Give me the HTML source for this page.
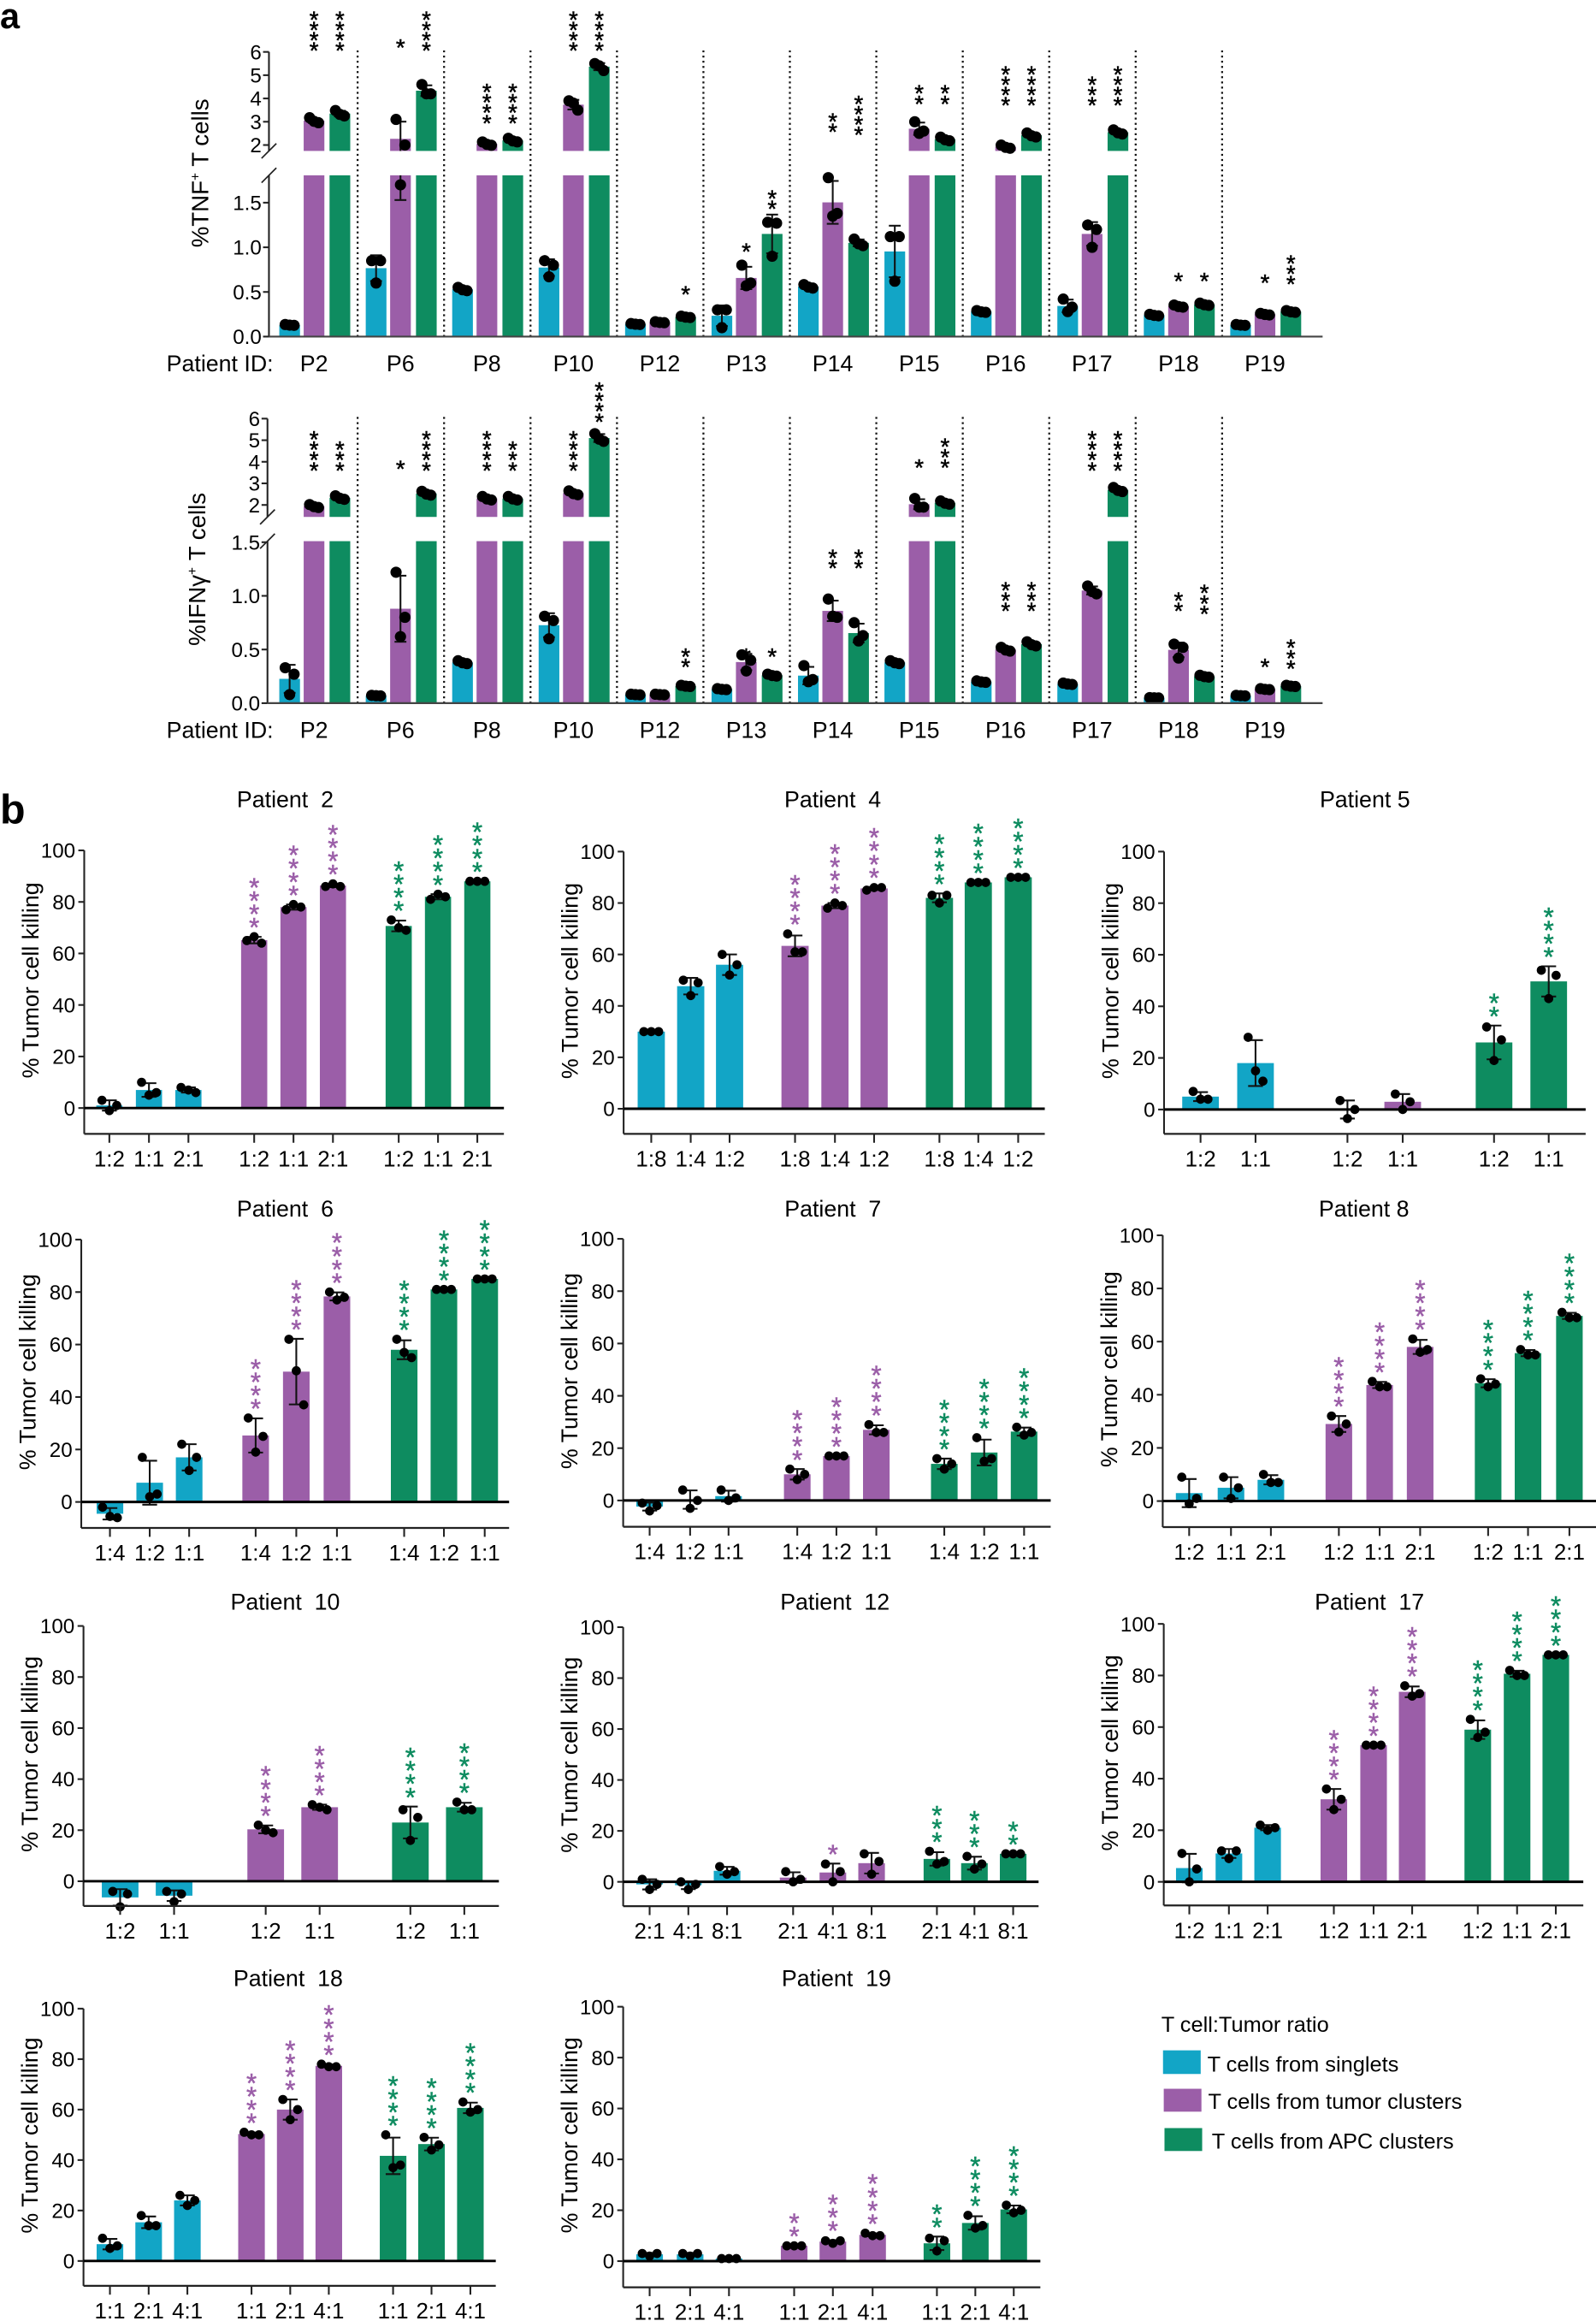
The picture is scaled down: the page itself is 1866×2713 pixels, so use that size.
<!DOCTYPE html>
<html><head><meta charset="utf-8">
<style>
html,body{margin:0;padding:0;background:#fff;}
svg{display:block;font-family:"Liberation Sans",Arial,sans-serif;}
text{white-space:pre;}
</style></head>
<body>
<svg id="s" xmlns="http://www.w3.org/2000/svg" width="1866" height="2713" viewBox="0 0 1080 1570">
<rect x="0" y="0" width="1080" height="1570" fill="#fff"/>
<text x="0" y="19" font-size="24" font-weight="bold">a</text>
<text x="0" y="557" font-size="28" font-weight="bold">b</text>
<text x="0" y="0" font-size="16" transform="translate(141,117) rotate(-90)" text-anchor="middle">%TNF<tspan font-size="9" dy="-6">+</tspan><tspan dy="6"> T cells</tspan></text>
<text x="0" y="0" font-size="16" transform="translate(139,385) rotate(-90)" text-anchor="middle">%IFNγ<tspan font-size="9" dy="-6">+</tspan><tspan dy="6"> T cells</tspan></text>
<text x="185" y="251" font-size="15.5" text-anchor="end">Patient ID:</text>
<text x="185" y="499" font-size="15.5" text-anchor="end">Patient ID:</text>
<text x="785.8" y="1374.4" font-size="14.7">T cell:Tumor ratio</text>
<rect x="787" y="1387" width="25.5" height="16" fill="#12a5c6"/>
<text x="817" y="1401.4" font-size="14.7">T cells from singlets</text>
<rect x="787.5" y="1413" width="25.5" height="15.5" fill="#9b5ea8"/>
<text x="817.5" y="1426.5" font-size="14.7">T cells from tumor clusters</text>
<rect x="788" y="1439.6" width="25.5" height="15.5" fill="#0e8c60"/>
<text x="820" y="1453.5" font-size="14.7">T cells from APC clusters</text>
</svg>
<script>
const NS='http://www.w3.org/2000/svg';
const svg=document.getElementById('s');
function el(t,a,txt){const e=document.createElementNS(NS,t);for(const k in a)e.setAttribute(k,a[k]);if(txt!=null)e.textContent=txt;svg.appendChild(e);return e;}
const C=['#12a5c6','#9b5ea8','#0e8c60'];
const AX='#222';
function ln(x1,y1,x2,y2,w,c,da){const a={x1,y1,x2,y2,stroke:c||AX,'stroke-width':w||1.2};if(da)a['stroke-dasharray']=da;el('line',a);}
function st(d){const n=d.length,m=d.reduce((a,b)=>a+b,0)/n;const sd=Math.sqrt(d.reduce((a,b)=>a+(b-m)*(b-m),0)/(n-1));return [m,sd];}
function stars(x,yb,n,col,fs,sp){for(let k=0;k<n;k++){const cy=yb-sp/2-k*sp;el('text',{x:x,y:cy+0.57*fs,'font-size':fs,'text-anchor':'middle',fill:col,stroke:col,'stroke-width':0.3},'*');}}

const PAT=['P2','P6','P8','P10','P12','P13','P14','P15','P16','P17','P18','P19'];
function panelA(cfg){
  const {y0,lowTop,upBot,lk,uk,u2,thr,ax,data,sb,sepTop,ticksU,ticksL,labY}=cfg;
  const yl=v=>y0-v*lk, yu=v=>u2-(v-2)*uk;
  const map=v=>v<=thr?yl(v):yu(v);
  for(let i=0;i<11;i++){const x=242+i*58.5;ln(x,sepTop,x,y0,1.3,'#111','1.3 2.2');}
  for(let i=0;i<12;i++){
    const off=[196,212.5,230].map(v=>v+i*58.5);
    for(let j=0;j<3;j++){
      const d=data[i][j];const dots=Array.isArray(d)?d:[d*1.04,d*0.97,d*0.99];
      const [m,sd]=st(dots);const x=off[j],w=14;
      if(m<=thr){el('rect',{x:x-w/2,y:yl(m),width:w,height:y0-yl(m),fill:C[j]});}
      else{el('rect',{x:x-w/2,y:lowTop,width:w,height:y0-lowTop,fill:C[j]});el('rect',{x:x-w/2,y:yu(m),width:w,height:upBot-yu(m),fill:C[j]});}
      const lo=m-sd,hi=m+sd;
      if((lo<=thr)==(hi<=thr)){ln(x,map(lo),x,map(hi),1.2,'#111');}
      else{ln(x,map(lo),x,lowTop,1.2,'#111');ln(x,upBot,x,map(hi),1.2,'#111');}
      ln(x-4,map(lo),x+4,map(lo),1.2,'#111');ln(x-4,map(hi),x+4,map(hi),1.2,'#111');
      const dx=[-3,3,0];
      dots.forEach((v,k)=>el('circle',{cx:x+dx[k],cy:map(v),r:3.8,fill:'#000'}));
      const s=sb[i][j];if(s)stars(x,s[1],s[0],'#000',16,7);
    }
    el('text',{x:212.5+i*58.5,y:labY,'font-size':15.5,'text-anchor':'middle'},PAT[i]);
  }
  ln(ax,lowTop,ax,y0);ln(ax,yu(6),ax,upBot);ln(ax,y0,895,y0,1.3,'#444');
  ln(ax-5,upBot+5,ax+5,upBot-5,1);ln(ax-5,lowTop+5,ax+5,lowTop-5,1);
  ticksU.forEach(v=>{ln(ax-4,yu(v),ax,yu(v));el('text',{x:ax-5,y:yu(v)+5,'font-size':14,'text-anchor':'end'},String(v));});
  ticksL.forEach(v=>{ln(ax-4,yl(v),ax,yl(v));el('text',{x:ax-5,y:yl(v)+5,'font-size':14,'text-anchor':'end'},v.toFixed(1));});
}
panelA({y0:227.6,lowTop:118.5,upBot:102,lk:60.4,uk:15.75,u2:98,thr:1.78,ax:182,sepTop:34,labY:251,
 ticksU:[2,3,4,5,6],ticksL:[0,0.5,1,1.5],
 data:[[0.13,3.05,3.35],[[0.85,0.85,0.6],[3.1,2.0,1.7],[4.6,4.2,4.2]],[0.53,2.05,2.2],[[0.85,0.8,0.67],[3.9,3.5,3.8],[5.5,5.2,5.4]],
  [0.14,0.16,0.22],[[0.3,0.3,0.1],[0.8,0.6,0.57],[1.28,1.27,0.9]],[0.56,[1.78,1.38,1.35],1.05],[[1.12,1.12,0.62],[3.0,2.6,2.5],2.25],
  [0.28,1.92,2.42],[[0.42,0.33,0.28],[1.25,1.2,1.0],2.55],[0.24,0.34,0.36],[0.13,0.25,0.28]],
 sb:[[0,[4,34],[4,34]],[0,[1,32],[4,34]],[0,[4,83],[4,83]],[0,[4,34],[4,34]],[0,0,[1,199]],[0,[1,170],[2,141]],
  [0,[2,89],[4,91]],[0,[2,70],[2,70]],[0,[4,71],[4,71]],[0,[3,71],[4,71]],[0,[1,190],[1,190]],[0,[1,191],[3,192]]]
});
panelA({y0:475.6,lowTop:366,upBot:349.6,lk:72.6,uk:14.6,u2:341.5,thr:1.5,ax:181,sepTop:282,labY:499,
 ticksU:[2,3,4,5,6],ticksL:[0,0.5,1,1.5],
 data:[[[0.33,0.27,0.08],1.94,2.33],[0.07,[1.22,0.8,0.62],2.53],[0.38,2.3,2.3],[[0.81,0.77,0.6],2.55,5.1],
  [0.08,0.08,0.16],[0.13,[0.45,0.4,0.3],0.26],[[0.35,0.22,0.2],[0.97,0.8,0.81],[0.75,0.63,0.58]],[0.38,[2.3,1.9,1.9],2.1],
  [0.2,0.5,0.55],[0.18,1.05,2.7],[0.05,[0.55,0.52,0.42],0.25],[0.07,0.13,0.16]],
 sb:[[0,[4,318],[3,318]],[0,[1,317],[4,318]],[0,[4,318],[3,318]],[0,[4,318],[4,285]],[0,0,[2,451]],[0,[1,444],[1,444]],
  [0,[2,384],[2,384]],[0,[1,316],[3,316]],[0,[3,413],[3,413]],[0,[4,318],[4,318]],[0,[2,413],[3,415]],[0,[1,451],[3,452]]]
});

function chart(c){
  const {ax,y100,y0,yb,xe,title,tx,ty,xs,w,labs,data}=c;
  const k=(y0-y100)/100, Y=v=>y0-v*k;
  const per=xs.length/3;
  xs.forEach((x,i)=>{
    const g=Math.floor(i/per),d=data[i][0],ns=data[i][1];
    const [m,sd]=st(d);
    const top=Math.min(Y(m),y0),h=Math.abs(Y(m)-y0);
    el('rect',{x:x-w/2,y:top,width:w,height:h,fill:C[g]});
    ln(x,Y(m-sd),x,Y(m+sd),1.2,'#111');
    ln(x-5,Y(m-sd),x+5,Y(m-sd),1.2,'#111');ln(x-5,Y(m+sd),x+5,Y(m+sd),1.2,'#111');
    const dx=[-5,0,5];
    d.forEach((v,j)=>el('circle',{cx:x+dx[j],cy:Y(v),r:3.1,fill:'#000'}));
    if(ns){const mt=Math.max(Math.max(...d),m+sd);stars(x,Y(mt)-6,ns,C[g],18,9);}
    ln(x,yb,x,yb+6,1.2);
    el('text',{x:x,y:yb+22,'font-size':15,'text-anchor':'middle'},labs[i%labs.length]);
  });
  ln(ax,y100,ax,yb,1.2);ln(ax,yb,xe,yb,1.3);ln(ax,y0,xe,y0,1.7,'#000');
  for(let v=0;v<=100;v+=20){ln(ax-4,Y(v),ax,Y(v));el('text',{x:ax-6,y:Y(v)+5,'font-size':14,'text-anchor':'end'},String(v));}
  el('text',{x:0,y:0,'font-size':15.5,'text-anchor':'middle',transform:`translate(${ax-31},${(y100+yb)/2-8}) rotate(-90)`},'% Tumor cell killing');
  el('text',{x:tx,y:ty+5,'font-size':15.5,'text-anchor':'middle'},title);
}
const L3a=['1:2','1:1','2:1'];
chart({ax:57,y100:575.2,y0:749.5,yb:767,xe:341,title:'Patient  2',tx:193,ty:541,w:17.7,labs:L3a,
 xs:[74,100.8,127.5,172,198.6,225.3,269.8,296.4,323],
 data:[[[3,-1,1]],[[10,5,6]],[[8,7,6]],[[65,66.5,64],4],[[77,79,78],4],[[86,87,86],4],[[73,70,69],4],[[81,83,82],4],[[88,88,88],4]]});
chart({ax:422,y100:576,y0:750,yb:767,xe:707,title:'Patient  4',tx:563.5,ty:541,w:18.4,labs:['1:8','1:4','1:2'],
 xs:[440.7,467.4,493.7,538,565,591.5,635.7,662,689],
 data:[[[30,30,30]],[[50,44,49]],[[60,52,56]],[[68,61,61],4],[[78,80,79],4],[[85,86,86],4],[[83,80,83],4],[[88,88,88],4],[[90,90,90],4]]});
chart({ax:787.7,y100:576,y0:750.5,yb:767,xe:1073,title:'Patient 5',tx:923.6,ty:541,w:24.8,labs:['1:2','1:1'],
 xs:[812.4,849.6,911.8,949.2,1011,1048],
 data:[[[7,4,4]],[[28,15,11]],[[3.5,-3.5,0]],[[6,0,3]],[[32,19,27],2],[[54,43,52],4]]});
chart({ax:55,y100:838.5,y0:1016,yb:1033.6,xe:344.5,title:'Patient  6',tx:193,ty:818,w:18,labs:['1:4','1:2','1:1'],
 xs:[74.4,101.3,128,173,200.5,228,273.5,300.4,328],
 data:[[[-2,-5.5,-6]],[[17,2,3]],[[22,12,17]],[[32,19,25],4],[[62,50,37],4],[[80,77,78],4],[[62,57,55],4],[[81,81,81],4],[[85,85,85],4]]});
chart({ax:421.7,y100:838,y0:1015,yb:1032.8,xe:711,title:'Patient  7',tx:563.6,ty:818,w:18,labs:['1:4','1:2','1:1'],
 xs:[439.6,467,493,539.5,566,593,639,666,693],
 data:[[[-1,-4,-2]],[[4,-3,0]],[[4,0,1]],[[12,8,10],4],[[17,17,17],4],[[29,26,26],4],[[16,12,14],4],[[24,15,16],4],[[28,25,26],4]]});
chart({ax:786.8,y100:835.6,y0:1015.4,yb:1033,xe:1080,title:'Patient 8',tx:923,ty:818,w:18,labs:L3a,
 xs:[804.7,833,860,906,933.6,961,1007,1034,1062],
 data:[[[9,-1,1]],[[9,1,5]],[[10,7,7]],[[32,26,29],4],[[45,43,43],4],[[61,56,57],4],[[46,43,44],4],[[57,55,55],4],[[71,69,69],4]]});
chart({ax:56.5,y100:1099.9,y0:1272.6,yb:1289.3,xe:337.6,title:'Patient  10',tx:193,ty:1084,w:24.8,labs:['1:2','1:1'],
 xs:[81.3,117.8,179.8,216.3,277.7,314.2],
 data:[[[-4,-10,-5]],[[-4,-8,-5]],[[22,20,19],4],[[30,29,28],4],[[28,16,25],4],[[31,28,28],4]]});
chart({ax:421.7,y100:1100.7,y0:1273,yb:1289.5,xe:702.8,title:'Patient  12',tx:565,ty:1084,w:18,labs:['2:1','4:1','8:1'],
 xs:[439.6,465.8,492,536.7,563.6,589.8,634,659.4,685.6],
 data:[[[1,-3,-1]],[[0,-3,-1]],[[6,3,4]],[[4,0,1]],[[7,0,4],1],[[11,3,8]],[[12,7,8],3],[[10,5,7],3],[[11,11,11],2]]});
chart({ax:787.5,y100:1098.5,y0:1273,yb:1289,xe:1071.4,title:'Patient  17',tx:926.7,ty:1084,w:18,labs:L3a,
 xs:[804.8,831.6,857.8,902.6,929.5,955.6,1000,1026.6,1052.8],
 data:[[[11,0,5]],[[12,9,12]],[[22,20,21]],[[36,28,32],4],[[53,53,53],4],[[76,72,73],4],[[63,56,58],4],[[82,80,80],4],[[88,88,88],4]]});
chart({ax:56.5,y100:1358.8,y0:1529.5,yb:1546.3,xe:335.5,title:'Patient  18',tx:195,ty:1338.6,w:18,labs:['1:1','2:1','4:1'],
 xs:[74.4,100.6,126.8,170.2,196.4,222.5,266,292,318.3],
 data:[[[9,5,6]],[[18,14,14]],[[26,22,24]],[[51,50,50],4],[[64,56,60],4],[[78,77,77],4],[[50,37,38],4],[[49,44,46],4],[[63,59,60],4]]});
chart({ax:421.7,y100:1357.5,y0:1529.6,yb:1547.3,xe:704,title:'Patient  19',tx:566,ty:1338.6,w:18,labs:['1:1','2:1','4:1'],
 xs:[439.6,467,493.3,537.4,563.6,590.5,634,660,686],
 data:[[[3,2,3]],[[3,2,3]],[[1,1,1]],[[6,6,6],2],[[8,7,8],3],[[11,10,10],4],[[9,4,8],2],[[18,13,14],4],[[22,19,20],4]]});
</script>
</body></html>
